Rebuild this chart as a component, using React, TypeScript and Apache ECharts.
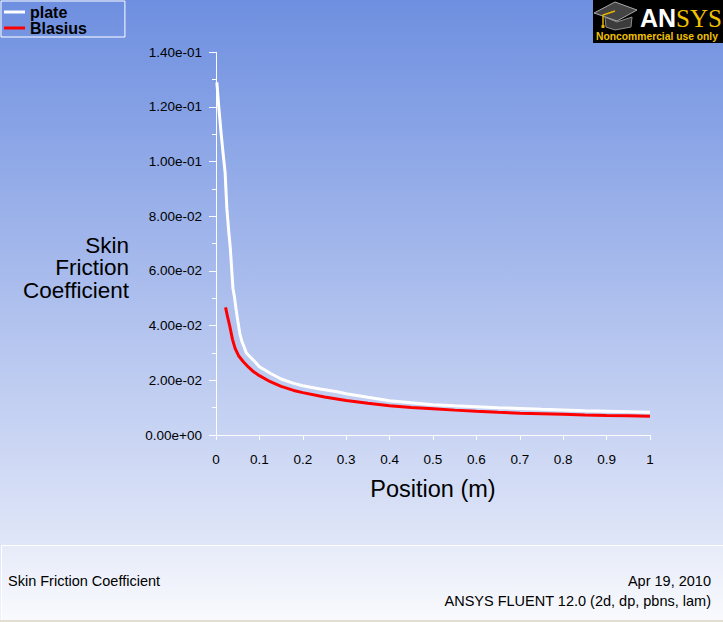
import React, { useEffect, useRef } from "react";
import * as echarts from "echarts";

const legendNames = ["plate", "Blasius"];

const plateX = [0.002, 0.006, 0.012, 0.016, 0.021, 0.025, 0.029, 0.033, 0.039, 0.043, 0.046, 0.05, 0.055, 0.06, 0.07, 0.086, 0.1, 0.125, 0.15, 0.179, 0.2, 0.24, 0.279, 0.3, 0.35, 0.4, 0.45, 0.5, 0.55, 0.6, 0.65, 0.7, 0.75, 0.8, 0.85, 0.9, 0.95, 1.0];
const plateY = [0.129, 0.1207, 0.11, 0.1036, 0.096, 0.0829, 0.075, 0.0683, 0.0537, 0.05, 0.0463, 0.042, 0.037, 0.0341, 0.03, 0.0274, 0.025, 0.0226, 0.0205, 0.0189, 0.018, 0.0168, 0.0158, 0.0151, 0.0138, 0.01255, 0.0118, 0.0111, 0.0107, 0.01035, 0.01, 0.0097, 0.0094, 0.00915, 0.0089, 0.0087, 0.0085, 0.0083];

const blasiusX = [0.022, 0.027, 0.032, 0.038, 0.044, 0.052, 0.063, 0.075, 0.086, 0.1, 0.125, 0.15, 0.179, 0.2, 0.25, 0.3, 0.35, 0.4, 0.45, 0.5, 0.55, 0.6, 0.65, 0.7, 0.75, 0.8, 0.85, 0.9, 0.95, 1.0];
const blasiusY = [0.0467, 0.043, 0.0396, 0.035, 0.0317, 0.029, 0.0268, 0.0248, 0.0232, 0.0217, 0.0195, 0.0178, 0.0163, 0.0155, 0.0139, 0.0126, 0.0116, 0.0107, 0.0101, 0.0096, 0.0091, 0.00866, 0.0083, 0.008, 0.0078, 0.00757, 0.0073, 0.0071, 0.007, 0.00684];

const yTitleLines = ["Skin", "Friction", "Coefficient"];
const xTitle = "Position (m)";
const footerLeft = "Skin Friction Coefficient";
const footerDate = "Apr 19, 2010";
const footerVersion = "ANSYS FLUENT 12.0 (2d, dp, pbns, lam)";

const FONT = "'Liberation Sans', Arial, sans-serif";

function expFmt(v: number): string {
  const s = Number(v).toExponential(2);
  return s.replace(/e([+-])(\d)$/, "e$10$2");
}

export default function App() {
  const ref = useRef<HTMLDivElement>(null);
  useEffect(() => {
    if (!ref.current) return;
    const chart = echarts.init(ref.current, undefined, { renderer: "svg" });
    const option = {
      animation: false,
      backgroundColor: new echarts.graphic.LinearGradient(0, 0, 0, 1, [
        { offset: 0, color: "#6e8fe0" },
        { offset: 0.876, color: "#e0e6f8" },
        { offset: 1, color: "#eef2fb" },
      ]),
      textStyle: { fontFamily: FONT },
      legend: {
        data: legendNames,
        orient: "vertical",
        left: 1,
        top: 1,
        itemWidth: 21,
        itemHeight: 3,
        itemGap: 0,
        icon: "rect",
        padding: [3, 38, 1, 3],
        borderColor: "#ffffff",
        borderWidth: 1,
        textStyle: { color: "#000", fontSize: 16, fontWeight: "bold", fontFamily: FONT, lineHeight: 13 },
      },
      grid: { left: 216, right: 73, top: 52.3, bottom: 187, containLabel: false },
      xAxis: {
        type: "value",
        min: 0,
        max: 1,
        interval: 0.1,
        name: xTitle,
        nameLocation: "middle",
        nameGap: 42,
        nameTextStyle: { color: "#000", fontSize: 23.5, fontFamily: FONT },
        axisLine: { show: true, lineStyle: { color: "#ffffff", width: 1 } },
        axisTick: { show: true, length: 5, lineStyle: { color: "#ffffff" } },
        splitLine: { show: false },
        axisLabel: { color: "#000", fontSize: 13.5, margin: 17, fontFamily: FONT },
      },
      yAxis: {
        type: "value",
        min: 0,
        max: 0.14,
        interval: 0.02,
        axisLine: { show: true, lineStyle: { color: "#ffffff", width: 1 } },
        axisTick: { show: true, length: 7, lineStyle: { color: "#ffffff" } },
        minorTick: { show: true, splitNumber: 2, length: 4, lineStyle: { color: "#ffffff" } },
        splitLine: { show: false },
        minorSplitLine: { show: false },
        axisLabel: { color: "#000", fontSize: 13.5, margin: 14, fontFamily: FONT, formatter: expFmt },
      },
      series: [
        {
          name: legendNames[0],
          type: "line",
          color: "#ffffff",
          showSymbol: false,
          symbol: "none",
          lineStyle: { color: "#ffffff", width: 3 },
          data: plateX.map((x, i) => [x, plateY[i]]),
          z: 3,
        },
        {
          name: legendNames[1],
          type: "line",
          color: "#ff0000",
          showSymbol: false,
          symbol: "none",
          lineStyle: { color: "#ff0000", width: 3 },
          data: blasiusX.map((x, i) => [x, blasiusY[i]]),
          z: 4,
        },
      ],
      graphic: [
        ...yTitleLines.map((t, i) => ({
          type: "text",
          x: 129,
          y: 245 + i * 22.8,
          style: {
            text: t,
            fill: "#000",
            font: `22.5px ${FONT}`,
            align: "right",
            verticalAlign: "middle",
          },
        })),
        {
          type: "rect",
          shape: { x: 1.5, y: 545.5, width: 722, height: 75 },
          style: {
            fill: new echarts.graphic.LinearGradient(0, 0, 0, 1, [
              { offset: 0, color: "#e6ebf9" },
              { offset: 1, color: "#f9fafd" },
            ]),
            stroke: "#ffffff",
            lineWidth: 1,
          },
        },
        {
          type: "line",
          shape: { x1: 0, y1: 621, x2: 723, y2: 621 },
          style: { stroke: "#e2dfd2", lineWidth: 2 },
        },
        {
          type: "text",
          x: 8,
          y: 581,
          style: { text: footerLeft, fill: "#000", font: `14.5px ${FONT}`, align: "left", verticalAlign: "middle" },
        },
        {
          type: "text",
          x: 711,
          y: 581,
          style: { text: footerDate, fill: "#000", font: `14.5px ${FONT}`, align: "right", verticalAlign: "middle" },
        },
        {
          type: "text",
          x: 711,
          y: 601,
          style: { text: footerVersion, fill: "#000", font: `14.5px ${FONT}`, align: "right", verticalAlign: "middle" },
        },
        {
          type: "group",
          children: [
            { type: "rect", shape: { x: 593, y: 0, width: 130, height: 43 }, style: { fill: "#000000" } },
            {
              type: "polygon",
              shape: { points: [[605, 17], [606, 27], [615, 30], [631, 27], [632, 17], [617, 22]] },
              style: { fill: "#3c3c3c", stroke: "#8c8c8c", lineWidth: 1 },
            },
            {
              type: "polygon",
              shape: { points: [[594, 13], [615, 2], [637, 10], [617, 21]] },
              style: { fill: "#444444", stroke: "#a8a8a8", lineWidth: 1 },
            },
            {
              type: "polyline",
              shape: { points: [[615, 11], [603, 15], [603, 27]] },
              style: { stroke: "#e8b400", lineWidth: 1.5, fill: null },
            },
            { type: "rect", shape: { x: 601.5, y: 25, width: 3, height: 3 }, style: { fill: "#e8b400" } },
            {
              type: "text",
              x: 640,
              y: 18,
              style: {
                text: "{w|AN}{y|SYS}",
                verticalAlign: "middle",
                rich: {
                  w: { fill: "#ffffff", font: `bold 25px ${FONT}` },
                  y: { fill: "#f2c200", font: `25px 'Liberation Serif', serif` },
                },
              },
            },
            {
              type: "text",
              x: 657,
              y: 36,
              style: {
                text: "Noncommercial use only",
                fill: "#f2c200",
                font: `bold 10.3px ${FONT}`,
                align: "center",
                verticalAlign: "middle",
              },
            },
          ],
        },
      ],
    };
    chart.setOption(option as any);
    return () => chart.dispose();
  }, []);
  return <div ref={ref} style={{ position: "absolute", left: 0, top: 0, width: 723, height: 622 }} />;
}
